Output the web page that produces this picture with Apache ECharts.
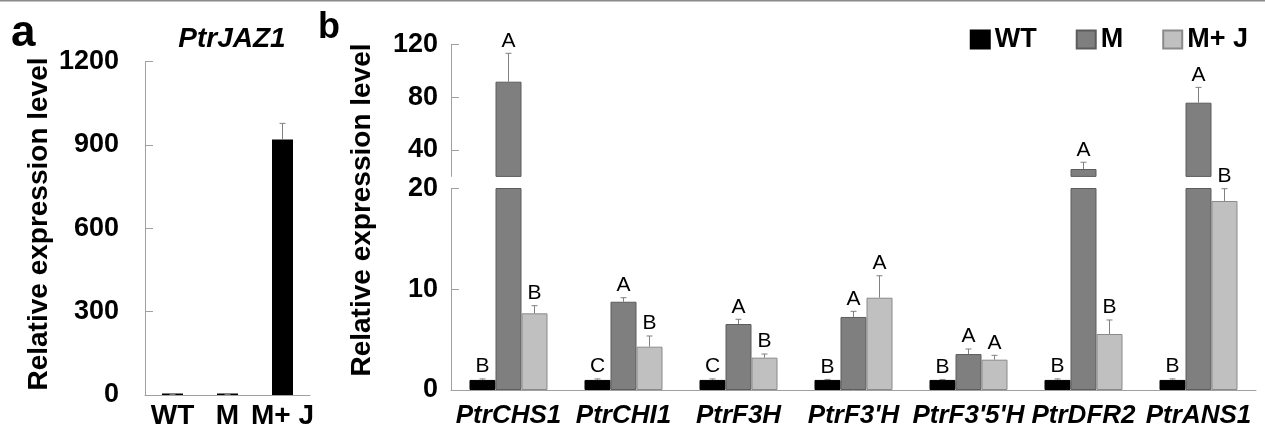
<!DOCTYPE html>
<html>
<head>
<meta charset="utf-8">
<script src="https://cdn.jsdelivr.net/npm/echarts@6/dist/echarts.min.js"></script>
<style>html,body{margin:0;padding:0;background:#fff;}#c{width:1265px;height:433px;}</style>
</head>
<body>
<div id="c"></div>
<script>
// ---- Panel a data ----
const aCats = ['WT', 'M', 'M+ J'];
const aVals = [1, 1, 920];
const aErr = [1, 1, 58];
const aTicks = [0, 300, 600, 900, 1200];

// ---- Panel b data ----
const genes = ['PtrCHS1', 'PtrCHI1', 'PtrF3H', "PtrF3'H", "PtrF3'5'H", 'PtrDFR2', 'PtrANS1'];
const groups = ['WT', 'M', 'M+ J'];
const wtVals = [1, 1, 1, 1, 1, 1, 1];
const wtErr = [0.1, 0.1, 0.1, 0.05, 0.05, 0.1, 0.1];
const mVals = [91.7, 8.76, 6.55, 7.25, 3.57, 25.6, 75.8];
const mErr = [21.5, 0.4, 0.47, 0.56, 0.5, 5.1, 11.6];
const mjVals = [7.61, 4.3, 3.21, 9.16, 3.01, 5.56, 18.76];
const mjErr = [0.76, 1.06, 0.36, 2.18, 0.43, 1.39, 1.22];
const wtLet = ['B', 'C', 'C', 'B', 'B', 'B', 'B'];
const mLet = ['A', 'A', 'A', 'A', 'A', 'A', 'A'];
const mjLet = ['B', 'B', 'B', 'A', 'A', 'B', 'B'];
const lowTicks = [0, 10, 20];
const highTicks = [40, 80, 120];
const breakAt = 20;

const FF = '"Liberation Sans", Arial, sans-serif';
const AX = '#a0a0a0';
const ERR = '#808080';
const BW = 26;
const styles = [
  { color: '#000000', borderColor: '#000000', borderWidth: 1 },
  { color: '#7f7f7f', borderColor: '#5c5c5c', borderWidth: 1 },
  { color: '#c0c0c0', borderColor: '#8a8a8a', borderWidth: 1 }
];
const vals = [wtVals, mVals, mjVals];
const errs = [wtErr, mErr, mjErr];
const lets = [wtLet, mLet, mjLet];

function errRenderer(offsetW, withLetters) {
  return function (params, api) {
    const cat = api.value(0), k = api.value(1), v = api.value(2), e = api.value(3);
    const p = api.coord([cat, v]);
    const pe = api.coord([cat, v + e]);
    const x = p[0] + (k - 1) * offsetW;
    const children = [
      { type: 'line', shape: { x1: x, y1: p[1], x2: x, y2: pe[1] }, style: { stroke: ERR, lineWidth: 1 } },
      { type: 'line', shape: { x1: x - 3, y1: pe[1], x2: x + 3, y2: pe[1] }, style: { stroke: ERR, lineWidth: 1 } }
    ];
    if (withLetters) {
      children.push({
        type: 'text', x: x, y: pe[1] - 2,
        style: { text: lets[k][cat], fontSize: 21, fontFamily: FF, fill: '#000', align: 'center', verticalAlign: 'bottom' }
      });
    }
    return { type: 'group', children: children };
  };
}

const lowData = [], highData = [];
for (let k = 0; k < 3; k++) {
  for (let i = 0; i < genes.length; i++) {
    const item = [i, k, vals[k][i], errs[k][i]];
    if (vals[k][i] > breakAt) highData.push(item); else lowData.push(item);
  }
}
const aErrData = aCats.map((c, i) => [i, 1, aVals[i], aErr[i]]);

const labelBold = { fontFamily: FF, fontWeight: 'bold', color: '#000' };
const plain = v => String(v);

const series = [];
// panel a bars
series.push({
  name: 'JAZ1', type: 'bar', xAxisIndex: 0, yAxisIndex: 0, data: aVals, barWidth: 21, barMinHeight: 1.5,
  itemStyle: { color: '#000' }, silent: true
});
series.push({
  type: 'custom', xAxisIndex: 0, yAxisIndex: 0, data: aErrData, encode: { x: 0, y: 2 },
  renderItem: errRenderer(0, false), silent: true, z: 5
});
// panel b bars: lower and upper parts
for (let k = 0; k < 3; k++) {
  series.push({
    name: groups[k], type: 'bar', xAxisIndex: 1, yAxisIndex: 1, data: vals[k],
    barWidth: BW, barGap: '0%', itemStyle: styles[k], silent: true, clip: true
  });
}
for (let k = 0; k < 3; k++) {
  series.push({
    name: groups[k], type: 'bar', xAxisIndex: 2, yAxisIndex: 2,
    data: vals[k].map(v => (v > breakAt ? v : '-')),
    barWidth: BW, barGap: '0%', itemStyle: styles[k], silent: true, clip: true
  });
}
series.push({
  type: 'custom', xAxisIndex: 1, yAxisIndex: 1, data: lowData, encode: { x: 0, y: 2 },
  renderItem: errRenderer(BW, true), silent: true, z: 5
});
series.push({
  type: 'custom', xAxisIndex: 2, yAxisIndex: 2, data: highData, encode: { x: 0, y: 2 },
  renderItem: errRenderer(BW, true), silent: true, z: 5
});

const yCommon = {
  type: 'value', splitLine: { show: false },
  axisLine: { show: true, lineStyle: { color: AX, width: 1 } },
  axisTick: { show: true, inside: true, length: 8, lineStyle: { color: AX } }
};

const option = {
  animation: false,
  backgroundColor: '#fff',
  grid: [
    { left: 145, top: 61.7, width: 165, height: 333.3 },
    { left: 451, top: 188.5, width: 805, height: 201.5 },
    { left: 451, top: 44.3, width: 805, height: 132.1 }
  ],
  legend: {
    data: groups, right: 12, top: 21, itemWidth: 19, itemHeight: 18, itemGap: 39, icon: 'rect',
    selectedMode: false,
    textStyle: { fontSize: 27, fontWeight: 'bold', color: '#000', fontFamily: FF }
  },
  xAxis: [
    {
      type: 'category', gridIndex: 0, data: aCats,
      axisLine: { lineStyle: { color: AX } },
      axisTick: { inside: true, length: 8, lineStyle: { color: AX } },
      axisLabel: Object.assign({ fontSize: 28, margin: 7, interval: 0 }, labelBold)
    },
    {
      type: 'category', gridIndex: 1, data: genes,
      axisLine: { lineStyle: { color: AX } },
      axisTick: { inside: true, length: 9, lineStyle: { color: AX } },
      axisLabel: Object.assign({ fontSize: 26, margin: 13, interval: 0, fontStyle: 'italic' }, labelBold)
    },
    { type: 'category', gridIndex: 2, data: genes, show: false }
  ],
  yAxis: [
    Object.assign({}, yCommon, {
      gridIndex: 0, min: aTicks[0], max: aTicks[aTicks.length - 1], interval: 300,
      axisLabel: Object.assign({ fontSize: 27, margin: 26, formatter: plain }, labelBold)
    }),
    Object.assign({}, yCommon, {
      gridIndex: 1, min: lowTicks[0], max: lowTicks[lowTicks.length - 1], interval: 10,
      axisLabel: Object.assign({ fontSize: 27, margin: 13, formatter: plain }, labelBold)
    }),
    Object.assign({}, yCommon, {
      gridIndex: 2, min: breakAt, max: highTicks[highTicks.length - 1], interval: 20,
      axisTick: { show: true, inside: true, length: 8, lineStyle: { color: AX }, customValues: highTicks },
      axisLabel: Object.assign({ fontSize: 27, margin: 13, customValues: highTicks, formatter: plain }, labelBold)
    })
  ],
  graphic: [
    { type: 'rect', left: 0, top: 0, shape: { width: 1265, height: 1.5 }, style: { fill: '#8a8a8a' }, silent: true },
    { type: 'text', x: 11, y: 12, style: { text: 'a', fontSize: 44, fontWeight: 'bold', fontFamily: FF, fill: '#000', align: 'left', verticalAlign: 'top' } },
    { type: 'text', x: 318, y: 10, style: { text: 'b', fontSize: 36, fontWeight: 'bold', fontFamily: FF, fill: '#000', align: 'left', verticalAlign: 'top' } },
    { type: 'text', x: 232, y: 39, style: { text: 'PtrJAZ1', fontSize: 28, fontWeight: 'bold', fontStyle: 'italic', fontFamily: FF, fill: '#000', align: 'center', verticalAlign: 'middle' } },
    { type: 'text', x: 39, y: 224, rotation: Math.PI / 2, style: { text: 'Relative expression level', fontSize: 28, fontWeight: 'bold', fontFamily: FF, fill: '#000', align: 'center', verticalAlign: 'middle' } },
    { type: 'text', x: 362, y: 210, rotation: Math.PI / 2, style: { text: 'Relative expression level', fontSize: 28, fontWeight: 'bold', fontFamily: FF, fill: '#000', align: 'center', verticalAlign: 'middle' } }
  ],
  series: series
};

const chart = echarts.init(document.getElementById('c'), null, { renderer: 'canvas' });
chart.setOption(option);
</script>
</body>
</html>
